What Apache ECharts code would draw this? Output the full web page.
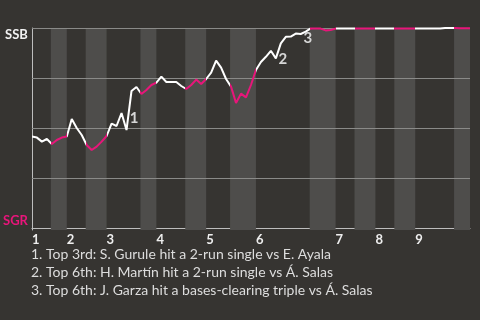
<!DOCTYPE html>
<html>
<head>
<meta charset="utf-8">
<script src="https://cdn.jsdelivr.net/npm/echarts@6/dist/echarts.min.js"></script>
<style>
  html, body { margin: 0; padding: 0; background: #363431; }
  #chart { width: 480px; height: 320px; }
</style>
</head>
<body>
<div id="chart"></div>
<script>
// Win probability for SSB after each play (0 = SGR wins, 1 = SSB wins)
const winProb = [
  0.457, 0.452, 0.432, 0.445, 0.420, 0.440, 0.452, 0.457, 0.545, 0.500,
  0.465, 0.415, 0.390, 0.407, 0.432, 0.460, 0.522, 0.510, 0.575, 0.490,
  0.685, 0.705, 0.670, 0.690, 0.715, 0.727, 0.757, 0.730, 0.730, 0.730,
  0.710, 0.695, 0.715, 0.742, 0.720, 0.745, 0.777, 0.837, 0.802, 0.745,
  0.707, 0.625, 0.672, 0.653, 0.715, 0.790, 0.830, 0.856, 0.886, 0.848,
  0.923, 0.956, 0.957, 0.972, 0.970, 0.982, 0.998, 0.997, 0.997, 0.988,
  0.990, 0.997, 0.997, 0.997, 0.997, 0.997, 0.997, 0.997, 0.997, 0.997,
  0.997, 0.997, 0.997, 0.997, 0.997, 0.997, 0.997, 0.997, 0.997, 0.997,
  0.997, 0.997, 0.997, 1.000, 1.000, 1.000, 0.999, 0.999, 0.999
];
// Half-inning boundaries (play index): top1, bot1, top2, bot2, ... , end
const halfInningEdges = [0, 3.8, 7, 10.8, 15, 21.8, 25, 30.8, 35, 39.8, 45, 55.8, 61, 64.8, 69, 72.8, 77, 84.8, 88];
const inningLabels = ['1', '2', '3', '4', '5', '6', '7', '8', '9'];
const teamLabels = { top: 'SSB', bottom: 'SGR' };
const gridValues = [0.25, 0.5, 0.75, 1];
const annotationPlays = [19, 49, 54];
const annotationMarks = ['1', '2', '3'];
const annotationOffsets = [[7.5, -12], [7, 1], [7, 4]];
const annotations = [
  '1. Top 3rd: S. Gurule hit a 2-run single vs E. Ayala',
  '2. Top 6th: H. Martín hit a 2-run single vs Á. Salas',
  '3. Top 6th: J. Garza hit a bases-clearing triple vs Á. Salas'
];

const PINK = '#e8157a';
const WHITE = '#ffffff';
const BAND = '#4e4d4b';
const FONT = 'Lato, "Open Sans", sans-serif';

const topStarts = [];
const bottomBands = [];
const pieces = [];
for (let i = 0; i < halfInningEdges.length - 1; i++) {
  const a = halfInningEdges[i], b = halfInningEdges[i + 1];
  const isBottom = i % 2 === 1;
  if (!isBottom) topStarts.push(a);
  else bottomBands.push([{ xAxis: a }, { xAxis: b }]);
  const last = i === halfInningEdges.length - 2;
  const p = { gte: a, color: isBottom ? PINK : WHITE };
  if (last) p.lte = b + 1; else p.lt = b;
  pieces.push(p);
}

const lineData = winProb.map((v, i) => [i, v]);

const chart = echarts.init(document.getElementById('chart'), null, { renderer: 'canvas' });
chart.setOption({
  backgroundColor: '#363431',
  animation: false,
  title: {
    text: annotations.join('\n'),
    left: 31, top: 245, padding: 0,
    textStyle: { fontFamily: FONT, fontSize: 14, fontWeight: 'normal', color: '#dddddd', lineHeight: 18 }
  },
  grid: { left: 30, right: 10, top: 28, bottom: 90 },
  xAxis: {
    type: 'value', min: 0, max: halfInningEdges[halfInningEdges.length - 1],
    axisLine: { show: true, lineStyle: { color: '#bdbdbd', width: 1 } },
    axisTick: { show: false },
    splitLine: { show: false },
    axisLabel: {
      customValues: topStarts,
      formatter: v => inningLabels[topStarts.indexOf(v)] || '',
      align: 'left', margin: 3,
      fontFamily: FONT, fontSize: 13, fontWeight: 'bold', color: '#eeeeee'
    }
  },
  yAxis: {
    type: 'value', min: -0.01, max: 1,
    axisLine: { show: true, lineStyle: { color: '#bdbdbd', width: 1 } },
    axisTick: { show: false },
    splitLine: { show: false },
    axisLabel: {
      customValues: [0, 1],
      margin: 4,
      formatter: v => v >= 1 ? '{t|' + teamLabels.top + '}' : '{b|' + teamLabels.bottom + '}',
      rich: {
        t: { fontFamily: FONT, fontSize: 13, fontWeight: 'bold', color: '#f2f2f2', padding: [14, 0, 0, 0] },
        b: { fontFamily: FONT, fontSize: 13, fontWeight: 'bold', color: PINK, padding: [0, 0, 14, 0] }
      }
    }
  },
  visualMap: {
    show: false, type: 'piecewise', dimension: 0, seriesIndex: 2,
    pieces: pieces
  },
  series: [
    {
      type: 'line', data: [], z: 1, silent: true,
      markArea: { silent: true, itemStyle: { color: BAND }, data: bottomBands }
    },
    {
      type: 'line', data: [], z: 2, silent: true,
      markLine: {
        silent: true, symbol: ['none', 'none'], label: { show: false },
        lineStyle: { color: '#8a8a88', width: 1, type: 'solid' },
        data: gridValues.map(v => ({ yAxis: v }))
      }
    },
    {
      type: 'line', data: lineData, z: 5, symbol: 'none', smooth: false,
      clip: false,
      lineStyle: { width: 2 },
      markPoint: {
        symbol: 'circle', symbolSize: 0, silent: true,
        data: annotationPlays.map((p, k) => ({
          coord: [p, winProb[p]],
          label: {
            show: true, position: 'inside', formatter: annotationMarks[k],
            offset: annotationOffsets[k], align: 'center', verticalAlign: 'middle',
            fontFamily: FONT, fontSize: 15, fontWeight: 'bold', color: '#d6d6d6'
          }
        }))
      }
    }
  ]
});
</script>
</body>
</html>
